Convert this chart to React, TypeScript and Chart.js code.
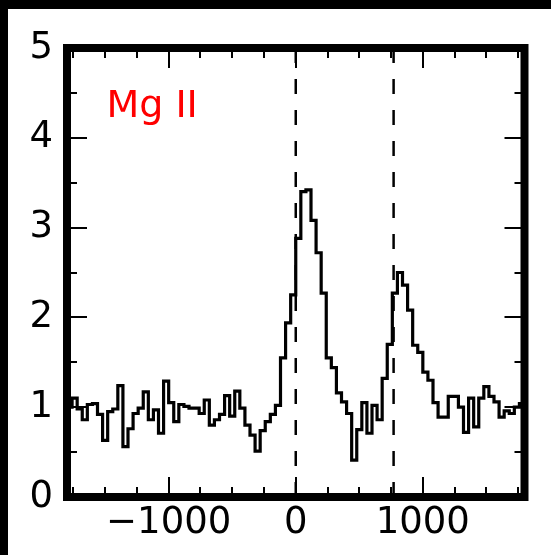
import React, { useEffect, useRef } from 'react';
import { Chart, registerables } from 'chart.js';

Chart.register(...registerables);

// Velocity bin centres (km/s)
const velocity = [
  -1780, -1740, -1700, -1660, -1620, -1580, -1540, -1500, -1460, -1420,
  -1380, -1340, -1300, -1260, -1220, -1180, -1140, -1100, -1060, -1020,
  -980, -940, -900, -860, -820, -780, -740, -700, -660, -620,
  -580, -540, -500, -460, -420, -380, -340, -300, -260, -220,
  -180, -140, -100, -60, -20, 20, 60, 100, 140, 180,
  220, 260, 300, 340, 380, 420, 460, 500, 540, 580,
  620, 660, 700, 740, 780, 820, 860, 900, 940, 980,
  1020, 1060, 1100, 1140, 1180, 1220, 1260, 1300, 1340, 1380,
  1420, 1460, 1500, 1540, 1580, 1620, 1660, 1700, 1740, 1780,
];

// Normalised flux
const flux = [
  1.00, 1.10, 0.98, 0.86, 1.03, 1.04, 0.92, 0.63, 0.95, 0.98,
  1.24, 0.56, 0.76, 0.93, 0.99, 1.17, 0.86, 0.97, 0.71, 1.29,
  1.05, 0.84, 1.03, 1.01, 0.99, 0.99, 0.93, 1.08, 0.80, 0.86,
  0.92, 1.13, 0.90, 1.18, 0.99, 0.80, 0.69, 0.51, 0.74, 0.84,
  0.92, 1.02, 1.55, 1.94, 2.25, 2.88, 3.40, 3.42, 3.08, 2.72,
  2.27, 1.55, 1.44, 1.16, 1.06, 0.93, 0.41, 0.75, 1.05, 0.71,
  1.02, 0.86, 1.32, 1.70, 2.27, 2.50, 2.36, 2.08, 1.69, 1.61,
  1.39, 1.30, 1.05, 0.89, 0.89, 1.12, 1.12, 1.00, 0.72, 1.10,
  0.78, 1.10, 1.23, 1.12, 1.06, 0.89, 0.96, 0.93, 1.00, 1.04,
];

const markerVelocities = [0, 770];
const xRange = [-1800, 1800];
const yRange = [0, 5];
const xMajorTicks = [-1000, 0, 1000];
const xMinorTicks = [-1750, -1500, -1250, -750, -500, -250, 250, 500, 750, 1250, 1500, 1750];
const yMajorTicks = [0, 1, 2, 3, 4, 5];
const yMinorTicks = [0.5, 1.5, 2.5, 3.5, 4.5];
const ionLabel = 'Mg II';
const ionLabelAt = { x: -1490, y: 4.23 };

const FONT = '"DejaVu Sans", "Liberation Sans", sans-serif';

const framePlugin = {
  id: 'frameTicks',
  afterDatasetsDraw(chart: any) {
    const { ctx, chartArea: a, scales } = chart;
    const xs = scales.x;
    const ys = scales.y;
    ctx.save();
    ctx.strokeStyle = '#000';
    ctx.lineWidth = 2;
    ctx.lineCap = 'butt';
    ctx.beginPath();
    const xt = (vals: number[], len: number) => {
      for (const v of vals) {
        const p = Math.round(xs.getPixelForValue(v));
        ctx.moveTo(p, a.bottom);
        ctx.lineTo(p, a.bottom - len);
        ctx.moveTo(p, a.top);
        ctx.lineTo(p, a.top + len);
      }
    };
    const yt = (vals: number[], len: number) => {
      for (const v of vals) {
        const p = Math.round(ys.getPixelForValue(v));
        ctx.moveTo(a.left, p);
        ctx.lineTo(a.left + len, p);
        ctx.moveTo(a.right, p);
        ctx.lineTo(a.right - len, p);
      }
    };
    xt(xMajorTicks, 20);
    xt(xMinorTicks, 10);
    yt(yMajorTicks, 20);
    yt(yMinorTicks, 10);
    ctx.stroke();

    ctx.lineWidth = 8;
    ctx.lineJoin = 'miter';
    ctx.strokeRect(a.left, a.top, a.right - a.left, a.bottom - a.top);

    ctx.fillStyle = '#ff0000';
    ctx.font = `38px ${FONT}`;
    ctx.textAlign = 'left';
    ctx.textBaseline = 'alphabetic';
    ctx.fillText(ionLabel, xs.getPixelForValue(ionLabelAt.x), ys.getPixelForValue(ionLabelAt.y));
    ctx.restore();
  },
};

export default function App() {
  const ref = useRef<HTMLCanvasElement | null>(null);

  useEffect(() => {
    if (!ref.current) return;
    const spectrum = velocity.map((v, i) => ({ x: v, y: flux[i] }));
    const markers = markerVelocities.map((v) => ({
      data: [
        { x: v, y: yRange[0] },
        { x: v, y: yRange[1] },
      ],
      borderColor: '#000',
      borderWidth: 2.5,
      borderDash: [15, 16],
      pointRadius: 0,
      fill: false,
    }));
    const chart = new Chart(ref.current, {
      type: 'line',
      data: {
        datasets: [
          {
            data: spectrum,
            borderColor: '#000',
            borderWidth: 3.2,
            stepped: 'middle',
            pointRadius: 0,
            fill: false,
          },
          ...markers,
        ],
      },
      options: {
        responsive: false,
        animation: false,
        devicePixelRatio: 1,
        layout: { padding: { left: 0, top: 39, right: 26.5, bottom: 0 }, autoPadding: false },
        plugins: { legend: { display: false }, tooltip: { enabled: false } },
        scales: {
          x: {
            type: 'linear',
            min: xRange[0],
            max: xRange[1],
            grid: { display: false, drawTicks: false },
            border: { display: false },
            afterBuildTicks: (s: any) => {
              s.ticks = xMajorTicks.map((v) => ({ value: v }));
            },
            afterFit: (s: any) => {
              s.height = 58;
            },
            ticks: {
              color: '#000',
              font: { family: FONT, size: 37, lineHeight: 1 },
              padding: 8,
              maxRotation: 0,
              autoSkip: false,
              callback: (v: any) => String(v).replace('-', '\u2212'),
            },
          },
          y: {
            type: 'linear',
            min: yRange[0],
            max: yRange[1],
            grid: { display: false, drawTicks: false },
            border: { display: false },
            afterBuildTicks: (s: any) => {
              s.ticks = yMajorTicks.map((v) => ({ value: v }));
            },
            afterFit: (s: any) => {
              s.width = 59;
            },
            ticks: {
              color: '#000',
              font: { family: FONT, size: 37, lineHeight: 1 },
              padding: 14,
              autoSkip: false,
              callback: (v: any) => String(v),
            },
          },
        },
      },
      plugins: [framePlugin],
    });
    return () => chart.destroy();
  }, []);

  return (
    <div style={{ position: 'fixed', left: 0, top: 0, width: 551, height: 555, background: '#000' }}>
      <div style={{ position: 'absolute', left: 8, top: 9, width: 543, height: 546, background: '#fff' }}>
        <canvas ref={ref} width={543} height={546} style={{ display: 'block' }} />
      </div>
    </div>
  );
}
